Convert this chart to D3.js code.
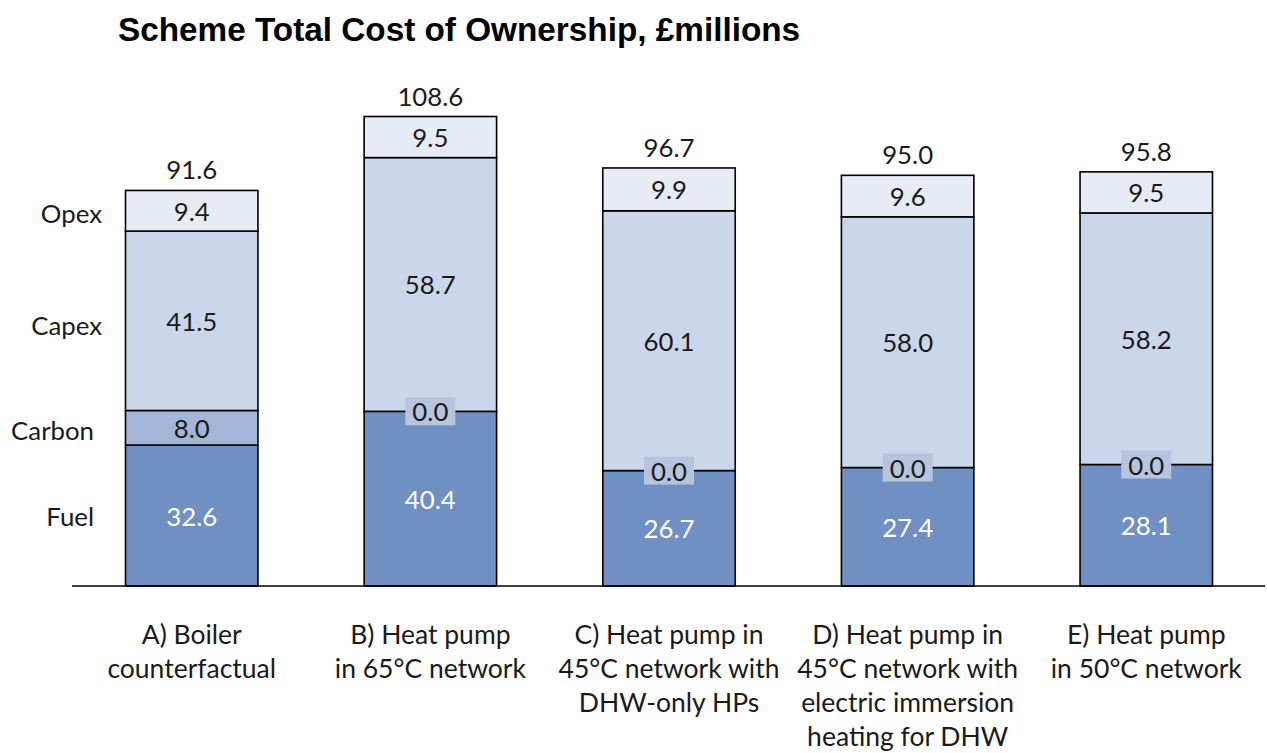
<!DOCTYPE html>
<html><head><meta charset="utf-8">
<script src="https://cdn.jsdelivr.net/npm/d3@7/dist/d3.min.js"></script>
<style>
html,body{margin:0;padding:0;background:#fff;}
svg{display:block;}
</style></head>
<body>
<svg id="chart" width="1267" height="753"></svg>
<script>
const categories = [
  ["A) Boiler", "counterfactual"],
  ["B) Heat pump", "in 65°C network"],
  ["C) Heat pump in", "45°C network with", "DHW-only HPs"],
  ["D) Heat pump in", "45°C network with", "electric immersion", "heating for DHW"],
  ["E) Heat pump", "in 50°C network"]
];
const seriesNames = ["Fuel", "Carbon", "Capex", "Opex"];
const fuel   = [32.6, 40.4, 26.7, 27.4, 28.1];
const carbon = [8.0, 0.0, 0.0, 0.0, 0.0];
const capex  = [41.5, 58.7, 60.1, 58.0, 58.2];
const opex   = [9.4, 9.5, 9.9, 9.6, 9.5];
const totals = [91.6, 108.6, 96.7, 95.0, 95.8];
const title = "Scheme Total Cost of Ownership, £millions";

const colors = {Fuel:"#7090c3", Carbon:"#a4b6d8", Capex:"#cad6ea", Opex:"#e6ebf4"};
const FONT = "Lato, 'Open Sans', sans-serif";

const svg = d3.select("#chart");
const baseY = 586;

const keys = categories.map((c,i)=>i);
const x = d3.scaleBand().domain(keys).range([73, 1265]).paddingInner(0.445).paddingOuter(0.22);
const y = d3.scaleLinear().domain([0, 100]).range([baseY, baseY - 432.3]);

const table = keys.map(i => ({i, Fuel:fuel[i], Carbon:carbon[i], Capex:capex[i], Opex:opex[i]}));
const stack = d3.stack().keys(seriesNames)(table);

// title
svg.append("text").attr("x", 118).attr("y", 41)
  .attr("font-family", "'Liberation Sans', Arial, sans-serif")
  .attr("font-weight", "bold").attr("font-size", 33.3).attr("fill", "#000")
  .text(title);

// segments
const g = svg.append("g");
stack.forEach(layer => {
  g.selectAll(null).data(layer).enter().append("rect")
    .attr("x", d => x(d.data.i))
    .attr("width", x.bandwidth())
    .attr("y", d => y(d[1]))
    .attr("height", d => Math.max(0, y(d[0]) - y(d[1])))
    .attr("fill", colors[layer.key])
    .attr("stroke", "#000").attr("stroke-width", 1.6);
});

// axis line
const xAxis = d3.axisBottom(x).tickSize(0).tickFormat("");
const ax = svg.append("g").attr("transform", `translate(0,${baseY})`).call(xAxis);
ax.select(".domain").attr("d", `M72,0H1265`).attr("stroke", "#000").attr("stroke-width", 1.6);

// value labels
const labelSize = 25.8;
stack.forEach(layer => {
  layer.forEach(d => {
    const v = d[1] - d[0];
    const cx = x(d.data.i) + x.bandwidth()/2;
    const cy = (y(d[0]) + y(d[1]))/2;
    const txt = v.toFixed(1);
    if (v === 0) {
      const bw = 50, bh = 28;
      svg.append("rect").attr("x", cx - bw/2).attr("y", cy - bh/2)
        .attr("width", bw).attr("height", bh)
        .attr("fill", "#b7c4dd");
    }
    svg.append("text").attr("x", cx).attr("y", cy)
      .attr("text-anchor", "middle").attr("dominant-baseline", "central")
      .attr("font-family", FONT).attr("font-size", labelSize)
      .attr("fill", layer.key === "Fuel" ? "#fff" : "#1a1a1a")
      .text(txt);
  });
});

// totals
totals.forEach((t, i) => {
  svg.append("text").attr("x", x(i) + x.bandwidth()/2).attr("y", y(t) - 21)
    .attr("text-anchor", "middle").attr("dominant-baseline", "central")
    .attr("font-family", FONT).attr("font-size", labelSize).attr("fill", "#1a1a1a")
    .text(t.toFixed(1));
});

// series labels on left (aligned to the first bar)
const first = stack.map(l => l[0]);
const rightEdges = {Fuel:94, Carbon:94, Capex:102, Opex:102};
const yOffsets = {Fuel:0, Carbon:2, Capex:4, Opex:2};
first.forEach((d, k) => {
  const key = seriesNames[k];
  svg.append("text").attr("x", rightEdges[key]).attr("y", (y(d[0]) + y(d[1]))/2 + yOffsets[key])
    .attr("text-anchor", "end").attr("dominant-baseline", "central")
    .attr("font-family", FONT).attr("font-size", labelSize).attr("fill", "#1a1a1a")
    .text(key);
});

// category labels
categories.forEach((lines, i) => {
  const t = svg.append("text").attr("x", x(i) + x.bandwidth()/2).attr("y", 634)
    .attr("text-anchor", "middle").attr("font-family", FONT).attr("font-size", 26.5).attr("fill", "#1a1a1a");
  lines.forEach((ln, j) => {
    t.append("tspan").attr("x", x(i) + x.bandwidth()/2).attr("y", 634 + j*34)
      .attr("dominant-baseline", "central").text(ln);
  });
});
</script>
</body></html>
